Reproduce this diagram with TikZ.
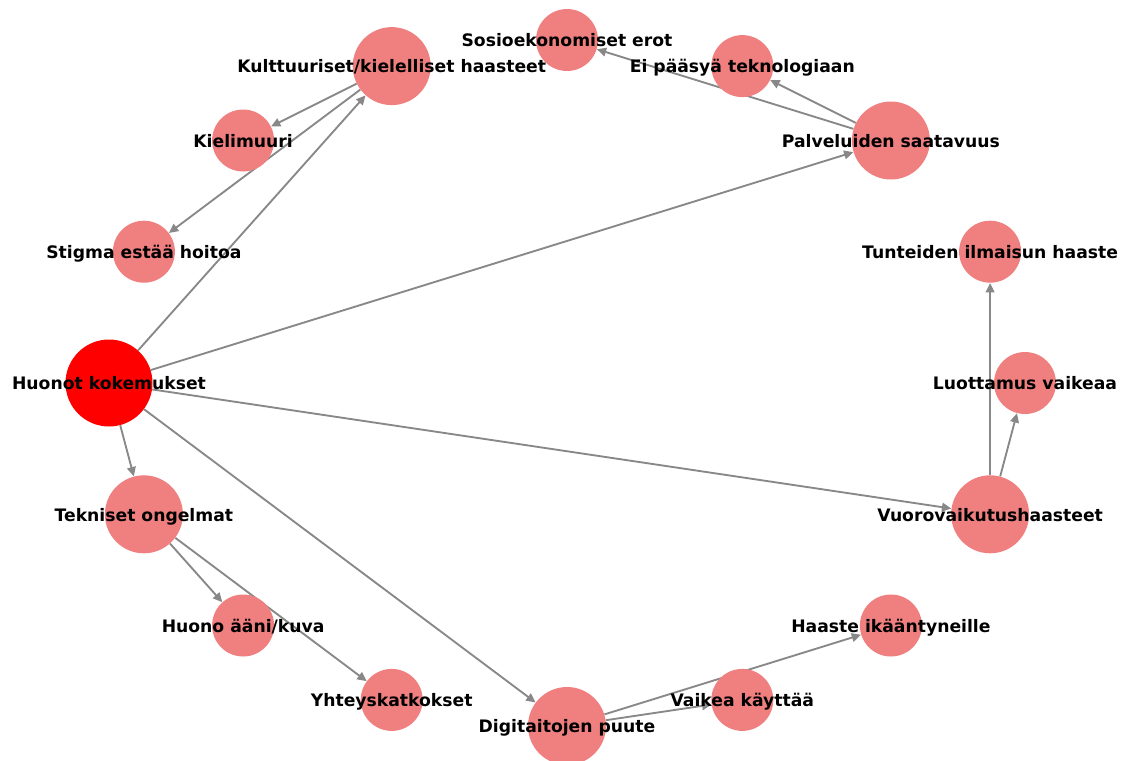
\documentclass[tikz,border=0pt]{standalone}
\usepackage{fontspec}
\setmainfont{DejaVu Sans}
\usepackage{xcolor}
\usetikzlibrary{arrows.meta}
\definecolor{lightcoral}{HTML}{F08080}
\definecolor{edgegray}{HTML}{888888}
\pgfdeclarelayer{background}
\pgfsetlayers{background,main}

\begin{document}
\begin{tikzpicture}[
  x=0.75pt, y=-0.75pt,
  lab/.style={font=\bfseries\fontsize{12.9}{15}\selectfont, text height=10.3pt, text depth=0pt, inner sep=0pt},
  small/.style={circle, fill=lightcoral, minimum size=46.5pt, inner sep=0pt},
  big/.style={circle, fill=lightcoral, minimum size=58.5pt, inner sep=0pt},
  root/.style={circle, fill=red, minimum size=65.25pt, inner sep=0pt},
  arrow/.style={-{Triangle[length=7pt, width=6.5pt]}, draw=edgegray, fill=edgegray, line width=1.4pt}
]
\useasboundingbox (0,0) rectangle (1129,761);

\node[small] (luottamus) at (1025,383) [label={[lab]center:Luottamus vaikeaa}] {};
\node[small] (tunteet) at (990.1,251.7) [label={[lab]center:Tunteiden ilmaisun haaste}] {};
\node[big] (palvelut) at (890.9,140.5) [label={[lab]center:Palveluiden saatavuus}] {};
\node[small] (eipaasya) at (742.3,66.1) [label={[lab]center:Ei pääsyä teknologiaan}] {};
\node[small] (sosio) at (567,40) [label={[lab]center:Sosioekonomiset erot}] {};
\node[big] (kulttuuri) at (391.7,66.1) [label={[lab]center:Kulttuuriset/kielelliset haasteet}] {};
\node[small] (kielimuuri) at (243.1,140.5) [label={[lab]center:Kielimuuri}] {};
\node[small] (stigma) at (143.9,251.7) [label={[lab]center:Stigma estää hoitoa}] {};
\node[root] (huonot) at (109,383) [label={[lab]center:Huonot kokemukset}] {};
\node[big] (tekniset) at (143.9,514.3) [label={[lab]center:Tekniset ongelmat}] {};
\node[small] (aani) at (243.1,625.5) [label={[lab]center:Huono ääni/kuva}] {};
\node[small] (katkos) at (391.7,699.9) [label={[lab]center:Yhteyskatkokset}] {};
\node[big] (digi) at (567,726) [label={[lab]center:Digitaitojen puute}] {};
\node[small] (vaikea) at (742.3,699.9) [label={[lab]center:Vaikea käyttää}] {};
\node[small] (ikaant) at (890.9,625.5) [label={[lab]center:Haaste ikääntyneille}] {};
\node[big] (vuoro) at (990.1,514.3) [label={[lab]center:Vuorovaikutushaasteet}] {};

% edges under the circles
\begin{pgfonlayer}{background}
\foreach \i/\j in {huonot/kulttuuri, huonot/palvelut, huonot/vuoro, huonot/digi, huonot/tekniset,
  kulttuuri/kielimuuri, kulttuuri/stigma, palvelut/sosio, palvelut/eipaasya,
  vuoro/tunteet, vuoro/luottamus, tekniset/aani, tekniset/katkos, digi/vaikea, digi/ikaant} {
  \draw[arrow] (\i) -- (\j);
}
\end{pgfonlayer}
\end{tikzpicture}
\end{document}
